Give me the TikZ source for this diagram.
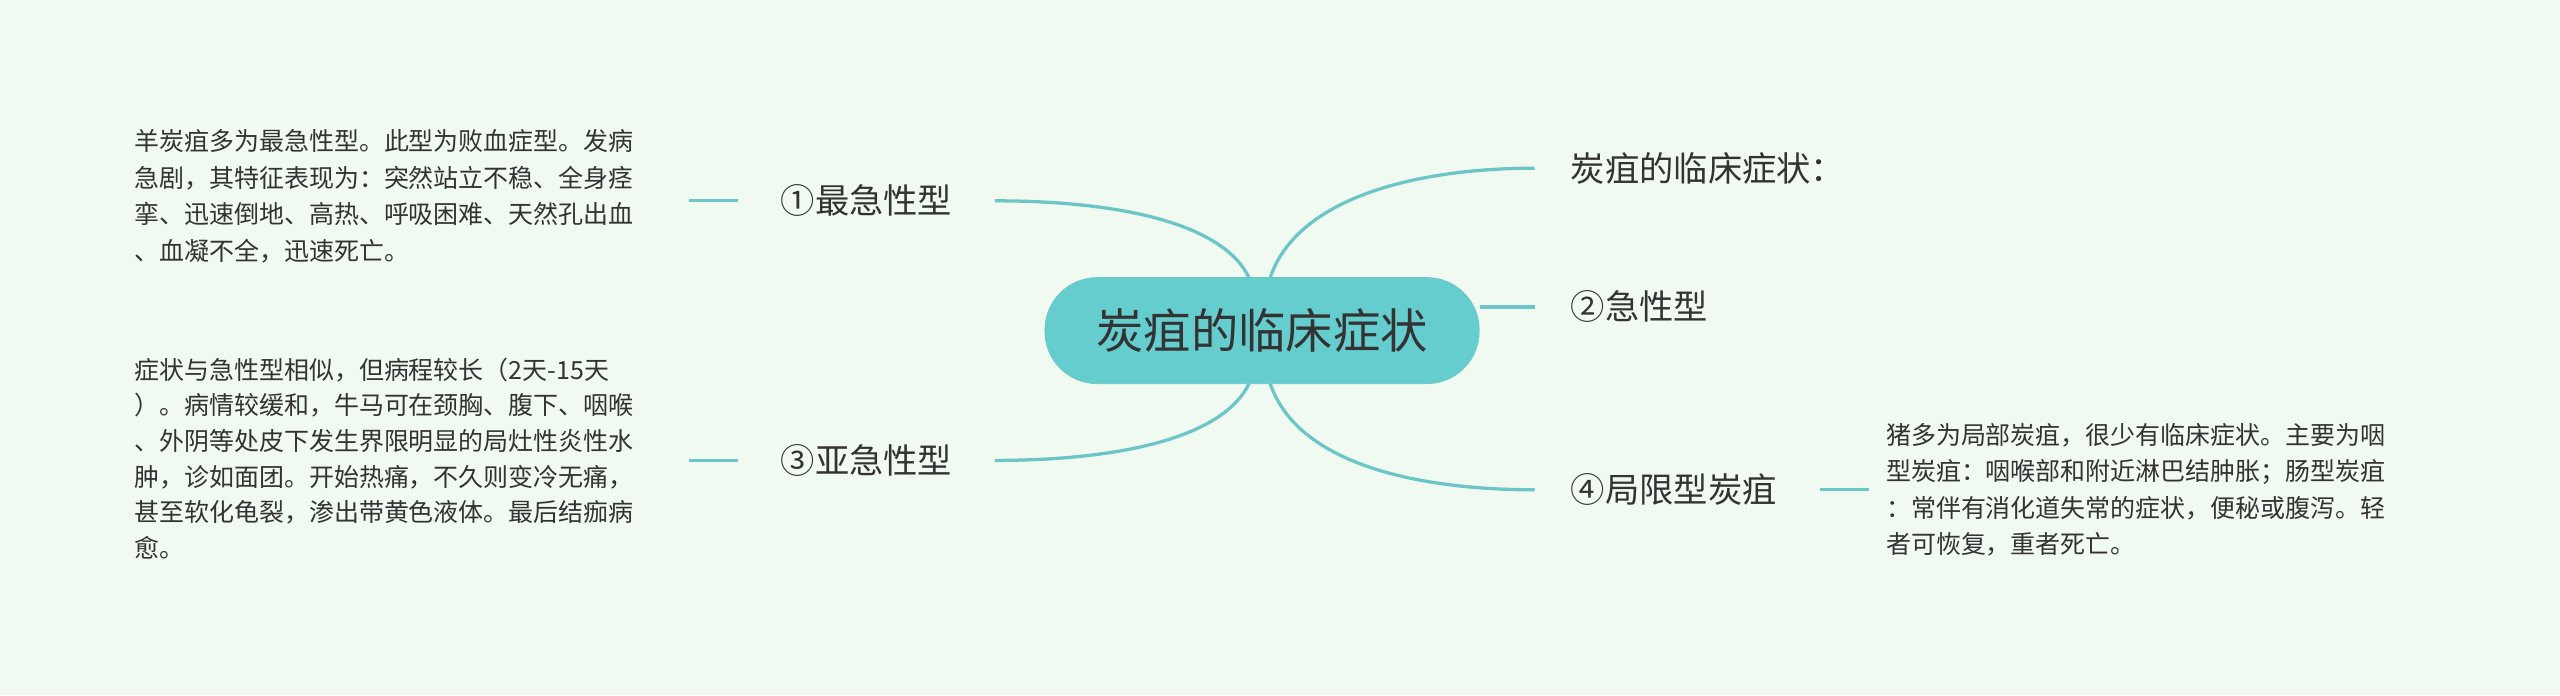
\documentclass[tikz,border=0pt]{standalone}
\usepackage{fontspec}
\newfontfamily\cjk{Noto Sans CJK SC}
\begin{document}
\begin{tikzpicture}[x=1pt,y=-1pt,
  conn/.style={draw=lineC,line width=2pt},
  branch/.style={font=\cjk\fontsize{21}{25}\selectfont,text=textC,anchor=west,inner sep=0pt},
  para/.style={font=\cjk\fontsize{15.3}{22.5}\selectfont,text=textC,anchor=north west,align=left,inner sep=0pt}]
\definecolor{bgC}{HTML}{F1FAF0}
\definecolor{lineC}{HTML}{6CC6C8}
\definecolor{fillC}{HTML}{66CDCF}
\definecolor{textC}{HTML}{333333}
\fill[bgC] (0,0) rectangle (1568,425.7);
\useasboundingbox (0,0) rectangle (1568,425.7);
\node[draw=lineC,fill=fillC,rounded corners=32pt,minimum width=266pt,minimum height=65pt,font=\cjk\fontsize{29}{33}\selectfont,text=textC] (c) at (773,202.5) {炭疽的临床症状};
\node[branch] (r1) at (962,103) {炭疽的临床症状：};
\node[branch] (r2) at (962,188) {②急性型};
\node[branch] (r3) at (962,300) {④局限型炭疽};
\node[branch] (l1) at (478,123) {①最急性型};
\node[branch] (l2) at (478,282) {③亚急性型};
\coordinate (cr1) at (778,170);
\coordinate (cr3) at (778,235);
\coordinate (cl1) at (765,170);
\coordinate (cl2) at (765,235);
\draw[conn] (cr1) .. controls (795,120) and (870,103) .. ([xshift=-22pt]r1.west);
\draw[conn] (c.east |- r2) -- ([xshift=-22pt]r2.west);
\draw[conn] (cr3) .. controls (795,285) and (870,300) .. ([xshift=-22pt]r3.west);
\draw[conn] (cl1) .. controls (748,135) and (680,123) .. ([xshift=26pt]l1.east);
\draw[conn] (cl2) .. controls (748,270) and (680,282) .. ([xshift=26pt]l2.east);
\node[para] (t1) at (82,79) {羊炭疽多为最急性型。此型为败血症型。发病\\急剧，其特征表现为：突然站立不稳、全身痉\\挛、迅速倒地、高热、呼吸困难、天然孔出血\\、血凝不全，迅速死亡。};
\node[para,font=\cjk\fontsize{15.3}{21.8}\selectfont] (t2) at (82,219) {症状与急性型相似，但病程较长（2天-15天\\）。病情较缓和，牛马可在颈胸、腹下、咽喉\\、外阴等处皮下发生界限明显的局灶性炎性水\\肿，诊如面团。开始热痛，不久则变冷无痛，\\甚至软化龟裂，渗出带黄色液体。最后结痂病\\愈。};
\node[para,font=\cjk\fontsize{15.3}{22.3}\selectfont] (t3) at (1155,259) {猪多为局部炭疽，很少有临床症状。主要为咽\\型炭疽：咽喉部和附近淋巴结肿胀；肠型炭疽\\：常伴有消化道失常的症状，便秘或腹泻。轻\\者可恢复，重者死亡。};
\coordinate (a1) at (422,123); \coordinate (b1) at (452,123);
\coordinate (a2) at (422,282); \coordinate (b2) at (452,282);
\coordinate (a3) at (1115,300); \coordinate (b3) at (1145,300);
\draw[conn] (a1) -- (b1);
\draw[conn] (a2) -- (b2);
\draw[conn] (a3) -- (b3);
\end{tikzpicture}
\end{document}
